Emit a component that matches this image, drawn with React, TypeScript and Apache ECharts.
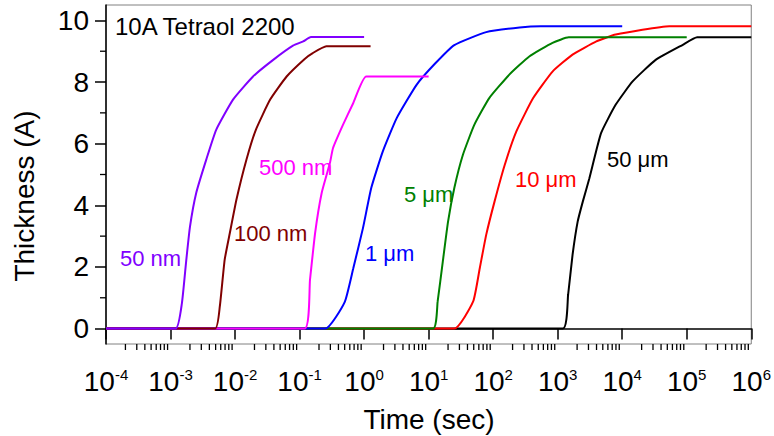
import React, { useEffect, useRef } from "react";
import * as echarts from "echarts";

const FONT = "'Liberation Sans', Arial, Helvetica, sans-serif";

// Decade tick values and minor (2..9 x 10^n) tick values
const xMajorTicks = [1e-4, 1e-3, 1e-2, 1e-1, 1e0, 1e1, 1e2, 1e3, 1e4, 1e5, 1e6];
const xMinorTicks: number[] = [];
for (let e = -4; e < 6; e++) {
  for (let m = 2; m <= 9; m++) xMinorTicks.push(m * Math.pow(10, e));
}
const yMajorTicks = [0, 2, 4, 6, 8, 10];
const yMinorTicks = [1, 3, 5, 7, 9];
const xMin = 1e-4;
const xMax = 1e6;
const yMin = -0.5;
const yMax = 10.5;

// Series: 50 nm
const t50nm = [1e-4, 1.2e-3, 1.5e-3, 1.75e-3, 2.0e-3, 2.5e-3, 3.6e-3, 5.1e-3, 9.3e-3, 0.019, 0.039, 0.079, 0.114, 0.15, 1.0];
const v50nm = [0, 0, 0.82, 2.2, 3.3, 4.4, 5.5, 6.45, 7.43, 8.18, 8.72, 9.18, 9.32, 9.46, 9.46];
// 100 nm
const t100nm = [1e-4, 4.9e-3, 5.8e-3, 6.9e-3, 8.3e-3, 0.0105, 0.015, 0.021, 0.035, 0.063, 0.12, 0.16, 0.26, 1.26];
const v100nm = [0, 0, 0.71, 2.23, 3.1, 4.18, 5.48, 6.45, 7.43, 8.18, 8.75, 8.94, 9.16, 9.16];
// 500 nm
const t500nm = [1e-4, 0.12, 0.145, 0.174, 0.22, 0.295, 0.33, 0.47, 0.68, 1.08, 10];
const v500nm = [0, 0, 1.58, 3.1, 4.4, 5.37, 5.86, 6.61, 7.32, 8.18, 8.18];
// 1 um
const t1um = [1e-4, 0.25, 0.5, 0.68, 0.96, 1.29, 1.95, 3.2, 6.5, 12.6, 25, 78, 257, 550, 1e4];
const v1um = [0, 0, 0.86, 1.96, 3.26, 4.56, 5.75, 6.83, 7.91, 8.6, 9.2, 9.62, 9.77, 9.81, 9.81];
// 5 um
const t5um = [1e-4, 11.7, 13.8, 16.6, 20, 25, 34, 51, 87, 178, 363, 832, 1480, 1e5];
const v5um = [0, 0, 0.88, 2.18, 3.47, 4.56, 5.64, 6.61, 7.48, 8.24, 8.83, 9.27, 9.45, 9.45];
// 10 um
const t10um = [1e-4, 25, 49, 62, 78, 105, 151, 229, 417, 832, 1700, 3980, 7940, 53700, 1e6];
const v10um = [0, 0, 0.88, 1.96, 3.04, 4.12, 5.31, 6.4, 7.48, 8.34, 8.89, 9.32, 9.54, 9.81, 9.81];
// 50 um
const t50um = [1e-4, 1200, 1450, 1700, 2040, 2450, 3100, 4700, 7900, 14500, 33000, 87000, 145000, 1e6];
const v50um = [0, 0, 1.09, 2.39, 3.47, 4.12, 4.88, 6.34, 7.26, 8.02, 8.72, 9.21, 9.45, 9.45];

const seriesNames = ["50 nm", "100 nm", "500 nm", "1 μm", "5 μm", "10 μm", "50 μm"];
const seriesTimes = [t50nm, t100nm, t500nm, t1um, t5um, t10um, t50um];
const seriesValues = [v50nm, v100nm, v500nm, v1um, v5um, v10um, v50um];
const seriesColors = ["#8000ff", "#800000", "#ff00ff", "#0000ff", "#008000", "#ff0000", "#000000"];

// Label placement (left x, vertical centre) in pixels
const labelPos: [number, number][] = [
  [120, 258],
  [234, 233],
  [259, 167],
  [365, 253],
  [404, 194],
  [515, 179],
  [607, 159],
];

export default function App() {
  const ref = useRef<HTMLDivElement>(null);
  useEffect(() => {
    if (!ref.current) return;
    const chart = echarts.init(ref.current, undefined, { renderer: "svg" });
    const series: any[] = seriesNames.map((name, i) => ({
      name,
      type: "line",
      showSymbol: false,
      symbol: "none",
      smooth: 0.15,
      z: 20 - i,
      lineStyle: { color: seriesColors[i], width: 2 },
      itemStyle: { color: seriesColors[i] },
      data: seriesTimes[i].map((t, k) => [t, seriesValues[i][k]]),
    }));
    // minor ticks on the bottom axis
    series.push({
      type: "custom",
      name: "xMinorTicks",
      clip: false,
      silent: true,
      z: 30,
      data: xMinorTicks.map((v) => [v, yMin]),
      renderItem: (_p: any, api: any) => {
        const c = api.coord([api.value(0), api.value(1)]);
        return {
          type: "line",
          shape: { x1: c[0], y1: c[1], x2: c[0], y2: c[1] + 6 },
          style: { stroke: "#000", lineWidth: 1.3 },
        };
      },
    });
    // minor ticks on the left axis
    series.push({
      type: "custom",
      name: "yMinorTicks",
      clip: false,
      silent: true,
      z: 30,
      data: yMinorTicks.map((v) => [xMin, v]),
      renderItem: (_p: any, api: any) => {
        const c = api.coord([api.value(0), api.value(1)]);
        return {
          type: "line",
          shape: { x1: c[0], y1: c[1], x2: c[0] - 6, y2: c[1] },
          style: { stroke: "#000", lineWidth: 1.3 },
        };
      },
    });
    const graphics: any[] = seriesNames.map((name, i) => ({
      type: "text",
      x: labelPos[i][0],
      y: labelPos[i][1],
      style: {
        text: name,
        fill: seriesColors[i],
        font: `22px ${FONT}`,
        textAlign: "left",
        textVerticalAlign: "middle",
      },
      z: 100,
    }));
    graphics.push({
      type: "text",
      x: 115,
      y: 26,
      style: {
        text: "10A Tetraol 2200",
        fill: "#000",
        font: `24px ${FONT}`,
        textAlign: "left",
        textVerticalAlign: "middle",
      },
      z: 100,
    });
    graphics.push({
      type: "text",
      x: 429,
      y: 419,
      style: {
        text: "Time (sec)",
        fill: "#000",
        font: `28px ${FONT}`,
        textAlign: "center",
        textVerticalAlign: "middle",
      },
      z: 100,
    });
    graphics.push({
      type: "text",
      x: 24,
      y: 196,
      rotation: Math.PI / 2,
      style: {
        text: "Thickness (A)",
        fill: "#000",
        font: `28px ${FONT}`,
        textAlign: "center",
        textVerticalAlign: "middle",
      },
      z: 100,
    });

    const option: any = {
      animation: false,
      backgroundColor: "#fff",
      grid: {
        left: 106,
        right: 22,
        top: 5,
        bottom: 92,
        show: true,
        borderColor: "#808080",
        borderWidth: 1,
        backgroundColor: "transparent",
      },
      xAxis: {
        type: "log",
        logBase: 10,
        min: xMin,
        max: xMax,
        position: "bottom",
        axisLine: { show: true, lineStyle: { color: "#000", width: 1.5 } },
        axisTick: {
          show: true,
          length: 11,
          customValues: xMajorTicks,
          lineStyle: { color: "#000", width: 1.5 },
        },
        axisLabel: {
          show: true,
          customValues: xMajorTicks,
          margin: 23,
          formatter: (v: number) => `{b|10}{s|${Math.round(Math.log10(v))}}`,
          rich: {
            b: { fontSize: 28, lineHeight: 28, fontFamily: FONT, color: "#000" },
            s: { fontSize: 15, lineHeight: 15, fontFamily: FONT, color: "#000", verticalAlign: "top" },
          },
        },
        splitLine: { show: false },
        minorTick: { show: false },
      },
      yAxis: {
        type: "value",
        min: yMin,
        max: yMax,
        position: "left",
        axisLine: { show: true, lineStyle: { color: "#000", width: 1.5 } },
        axisTick: {
          show: true,
          length: 11,
          customValues: yMajorTicks,
          lineStyle: { color: "#000", width: 1.5 },
        },
        axisLabel: {
          show: true,
          customValues: yMajorTicks,
          margin: 17,
          fontSize: 28,
          fontFamily: FONT,
          color: "#000",
        },
        splitLine: { show: false },
      },
      series,
      graphic: graphics,
    };
    chart.setOption(option);
    return () => chart.dispose();
  }, []);
  return (
    <div
      ref={ref}
      style={{ position: "fixed", left: 0, top: 0, width: 774, height: 436 }}
    />
  );
}
